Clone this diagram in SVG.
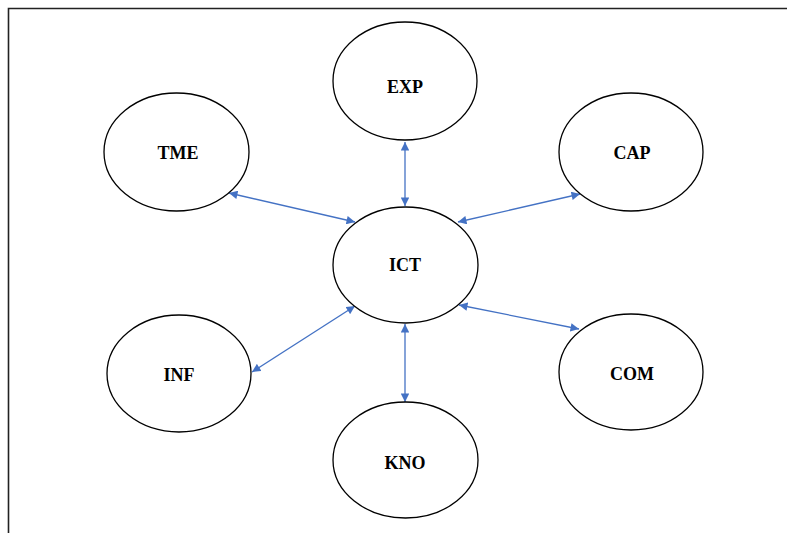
<svg xmlns="http://www.w3.org/2000/svg" width="788" height="533" viewBox="0 0 788 533">
<style>
.n ellipse{fill:#fff;stroke:#000;stroke-width:1.3}
.n text{font-family:"Liberation Serif","Times New Roman",serif;font-weight:bold;font-size:18px;fill:#000;text-anchor:middle;dominant-baseline:central}
.c line{stroke:#4472C4;stroke-width:1.3;marker-start:url(#ah);marker-end:url(#ah)}
</style>
<defs>
<marker id="ah" viewBox="0 0 10 10" refX="10" refY="5" markerWidth="9" markerHeight="8.5" markerUnits="userSpaceOnUse" orient="auto-start-reverse">
<path d="M0,0 L10,5 L0,10 Z" fill="#4472C4"/>
</marker>
</defs>
<rect width="788" height="533" fill="#fff"/>
<path d="M8.5,533 V8.5 H787" fill="none" stroke="#222" stroke-width="1.6"/>
<g class="c">
<line x1="405" y1="142" x2="405" y2="206"/>
<line x1="229" y1="193" x2="355" y2="222"/>
<line x1="580" y1="194" x2="458" y2="222"/>
<line x1="252" y1="372" x2="355" y2="306"/>
<line x1="579" y1="329" x2="459" y2="305"/>
<line x1="405" y1="324" x2="405" y2="402"/>
</g>
<g id="EXP" class="n"><ellipse cx="405" cy="81" rx="72" ry="59"/><text x="405" y="87">EXP</text></g>
<g id="TME" class="n"><ellipse cx="176.5" cy="152" rx="72.5" ry="59"/><text x="178" y="153">TME</text></g>
<g id="CAP" class="n"><ellipse cx="631" cy="152" rx="72" ry="59"/><text x="632" y="153">CAP</text></g>
<g id="ICT" class="n"><ellipse cx="405.5" cy="265" rx="72.5" ry="58"/><text x="405" y="265">ICT</text></g>
<g id="INF" class="n"><ellipse cx="179" cy="373.5" rx="72" ry="58.5"/><text x="179" y="375">INF</text></g>
<g id="COM" class="n"><ellipse cx="631" cy="372" rx="72" ry="58"/><text x="632" y="374">COM</text></g>
<g id="KNO" class="n"><ellipse cx="405.5" cy="460" rx="72.5" ry="58"/><text x="405" y="463">KNO</text></g>
</svg>
